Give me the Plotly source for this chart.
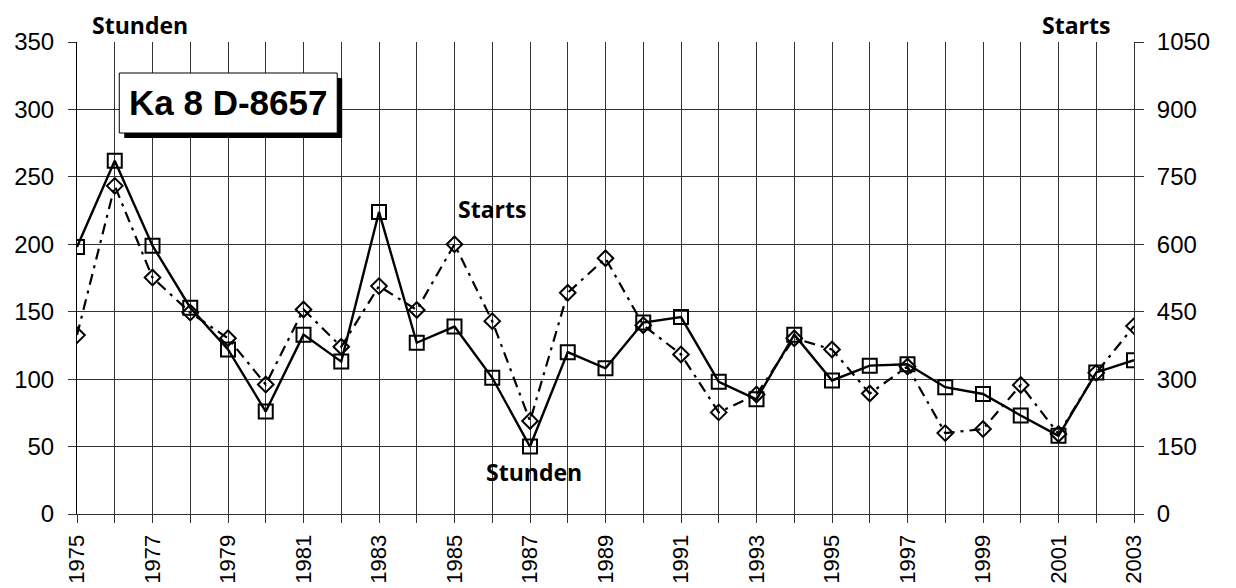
import plotly.graph_objects as go

years = list(range(1975, 2004))
stunden = [198, 262, 199, 153, 122, 76, 133, 113, 224, 127, 139, 101, 50, 120, 108,
           142, 146, 98, 85, 133, 99, 110, 111, 94, 89, 73, 58, 105, 114]
starts = [398, 730, 526, 448, 391, 288, 455, 372, 507, 454, 600, 429, 207, 492, 569,
          420, 355, 226, 266, 391, 366, 268, 328, 180, 189, 287, 178, 314, 418]
tick_labels = [str(y) if (y - 1975) % 2 == 0 else "" for y in years]
left_ticks = [0, 50, 100, 150, 200, 250, 300, 350]
right_ticks = [0, 150, 300, 450, 600, 750, 900, 1050]

fig = go.Figure()
fig.add_trace(go.Scatter(
    x=years, y=starts, yaxis="y2", mode="lines+markers", name="Starts",
    line=dict(color="black", width=2.2, dash="11px,6px,3px,6px"),
    marker=dict(symbol="diamond-open", size=12, color="black", line=dict(width=2, color="black")),
))
fig.add_trace(go.Scatter(
    x=years, y=stunden, mode="lines+markers", name="Stunden",
    line=dict(color="black", width=2.4),
    marker=dict(symbol="square-open", size=14, color="black", line=dict(width=2, color="black")),
))

tickfont = dict(family="Liberation Sans, Arial, sans-serif", size=24, color="black")
xtickfont = dict(family="Liberation Sans, Arial, sans-serif", size=22, color="black")
labfont = dict(family="Open Sans, Lato, sans-serif", size=23, color="black")

fig.update_layout(
    width=1236, height=588,
    margin=dict(l=69, r=110, t=34, b=82, autoexpand=False),
    paper_bgcolor="white", plot_bgcolor="white",
    showlegend=False,
    xaxis=dict(
        range=[1975, 2003], tickmode="array", tickvals=years, ticktext=tick_labels,
        tickangle=-90, tickfont=xtickfont, showgrid=True, gridcolor="#333", gridwidth=1,
        ticks="outside", ticklen=8, tickcolor="#333", showline=True, linecolor="#333",
        zeroline=False, ticklabelstandoff=3, automargin=False,
    ),
    yaxis=dict(
        range=[0, 350], tickmode="array", tickvals=left_ticks, tickfont=tickfont,
        showgrid=True, gridcolor="#333", gridwidth=1, ticks="outside", ticklen=8,
        tickcolor="#333", showline=True, linecolor="black", zeroline=False,
        ticklabelstandoff=9, automargin=False,
    ),
    yaxis2=dict(
        range=[0, 1050], tickmode="array", tickvals=right_ticks, tickfont=tickfont,
        overlaying="y", side="right", showgrid=False, ticks="outside", ticklen=9,
        tickcolor="#333", showline=True, linecolor="#333", zeroline=False,
        ticklabelstandoff=8, automargin=False,
    ),
    shapes=[
        dict(type="rect", xref="paper", yref="paper", x0=0.0447, x1=0.2509, y0=0.7966, y1=0.9237,
             fillcolor="black", line=dict(width=0), layer="above"),
        dict(type="rect", xref="paper", yref="paper", x0=0.040, x1=0.2462, y0=0.8072, y1=0.9343,
             fillcolor="white", line=dict(width=1, color="black"), layer="above"),
    ],
    annotations=[
        dict(text="<b>Ka 8 D-8657</b>", xref="paper", yref="paper", x=0.1432, y=0.8708,
             xanchor="center", yanchor="middle", showarrow=False,
             font=dict(family="Liberation Sans, Arial, sans-serif", size=35, color="black")),
        dict(text="<b>Stunden</b>", xref="paper", yref="paper", x=0.0599, y=1.036,
             xanchor="center", yanchor="middle", showarrow=False, font=labfont),
        dict(text="<b>Starts</b>", xref="paper", yref="paper", x=0.9447, y=1.036,
             xanchor="center", yanchor="middle", showarrow=False, font=labfont),
        dict(text="<b>Starts</b>", xref="paper", yref="paper", x=0.3923, y=0.6462,
             xanchor="center", yanchor="middle", showarrow=False, font=labfont),
        dict(text="<b>Stunden</b>", xref="paper", yref="paper", x=0.4325, y=0.089,
             xanchor="center", yanchor="middle", showarrow=False, font=labfont),
    ],
)

fig.write_html("out.html")
